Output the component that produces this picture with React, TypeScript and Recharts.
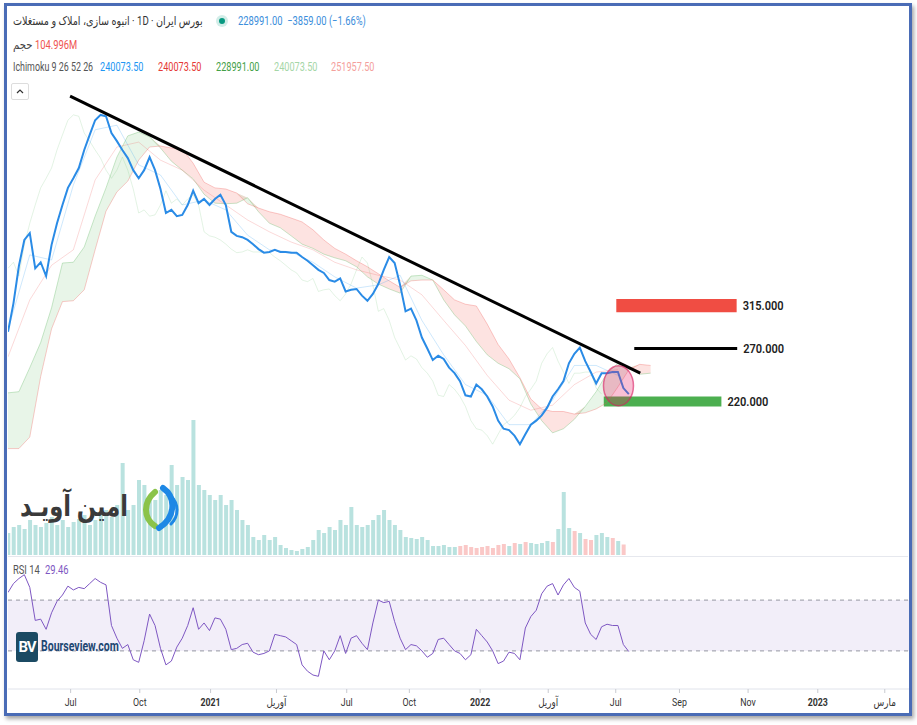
import React from "react";
import {
  Area,
  Bar,
  Cell,
  ComposedChart,
  Line,
  LineChart,
  ReferenceArea,
  ReferenceDot,
  ReferenceLine,
  XAxis,
  YAxis,
} from "recharts";

// weekly closes, thousand rials, week 0 ~ mid Apr 2020
const price = [
  287, 318, 364, 400, 410, 361, 369, 351, 393, 425,
  454, 483, 500, 519, 554, 585, 617, 629, 626, 589,
  572, 554, 538, 515, 500, 515, 540, 515, 481, 441,
  446, 436, 438, 454, 478, 457, 464, 454, 464, 471,
  454, 412, 406, 404, 400, 394, 387, 382, 383, 386,
  383, 383, 382, 382, 376, 371, 365, 359, 355, 346,
  344, 348, 332, 334, 335, 327, 321, 329, 341, 359,
  376, 368, 340, 309, 312, 299, 281, 270, 259, 263,
  260, 252, 247, 240, 228, 227, 237, 233, 227, 219,
  208, 202, 201, 197, 191, 198, 205, 208, 212, 218,
  227, 233, 240, 256, 265, 271, 258, 248, 238, 247,
  247, 248, 248, 234, 229,
];

const rsi = [
  76, 83, 87, 90, 80, 54, 55, 47, 60, 69,
  74, 81, 78, 80, 79, 83, 87, 84, 82, 50,
  40, 32, 35, 23, 21, 38, 59, 50, 32, 19,
  22, 33, 40, 50, 64, 47, 52, 46, 56, 55,
  47, 31, 32, 35, 36, 29, 27, 28, 30, 43,
  42, 41, 38, 35, 19, 14, 11, 10, 30, 23,
  30, 42, 28, 40, 42, 36, 31, 52, 70, 68,
  69, 53, 40, 31, 35, 34, 30, 25, 28, 39,
  40, 35, 30, 28, 23, 27, 47, 42, 37, 30,
  20, 22, 29, 28, 23, 48, 57, 62, 75, 81,
  83, 74, 82, 87, 80, 77, 52, 43, 39, 49,
  51, 50, 50, 35, 29.46,
];

// weekly volume, millions
const volume = [
  220, 280, 300, 260, 350, 300, 280, 320, 380, 300,
  350, 280, 330, 360, 400, 300, 350, 400, 450, 380,
  500, 920, 450, 500, 750, 700, 600, 550, 650, 600,
  900, 700, 780, 750, 1350, 700, 650, 600, 550, 600,
  500, 550, 450, 350, 300, 180, 150, 200, 150, 180,
  100, 70, 50, 40, 60, 80, 150, 250, 220, 280,
  250, 350, 300, 480, 300, 280, 300, 350, 400, 450,
  350, 300, 250, 180, 170, 160, 180, 150, 90, 90,
  100, 80, 80, 90, 100, 80, 70, 80, 90, 70,
  100, 110, 90, 120, 110, 130, 120, 110, 120, 140,
  130, 260, 630, 270, 240, 220, 160, 150, 200, 220,
  180, 170, 140, 105,
];
const volDown = [83, 84, 85, 86, 87, 88, 89, 90, 91, 93, 95, 100, 104, 106, 107, 111, 113];

// ichimoku leading spans, every 2 weeks (shifted 26 bars ahead)
const spanA = [
  230, 231, 252, 276, 313, 368, 369, 390, 436, 483,
  540, 583, 591, 581, 558, 532, 515, 499, 472, 457,
  456, 457, 466, 443, 425, 418, 406, 394, 388, 380,
  375, 371, 363, 350, 341, 335, 330, 351, 352, 346,
  322, 305, 293, 277, 264, 256, 251, 242, 221, 208,
  199, 202, 209, 219, 231, 247, 256, 252, 246, 247,
];
const spanB = [
  188, 188, 196, 244, 290, 320, 321, 334, 386, 444,
  476, 495, 534, 560, 562, 558, 556, 528, 493, 483,
  481, 474, 456, 449, 443, 439, 433, 427, 415, 400,
  388, 380, 371, 363, 354, 345, 337, 345, 346, 346,
  334, 322, 317, 315, 295, 274, 260, 243, 225, 217,
  215, 215, 213, 214, 217, 222, 235, 250, 255, 254,
];
// conversion / base lines, every 4 weeks
const tenkan = [289, 379, 372, 488, 596, 606, 525, 506, 454, 462, 446, 407, 386, 383, 369, 350, 336, 340, 352, 299, 264, 237, 228, 205, 205, 224, 254, 254, 245];
const kijun = [262, 322, 365, 386, 497, 560, 570, 534, 515, 479, 454, 430, 412, 397, 386, 369, 359, 352, 346, 328, 299, 273, 245, 224, 216, 220, 237, 248, 250];
const lagShift = 5;

const tickWeeks = [11.5, 24.2, 37.2, 49.3, 62.2, 73.7, 86.7, 99.2, 111.6, 123.3, 135.9, 148.7, 161.0];
const tickLabels = ["Jul", "Oct", "2021", "آوریل", "Jul", "Oct", "2022", "آوریل", "Jul", "Sep", "Nov", "2023", "مارس"];

const FONT = "Roboto, 'DejaVu Sans', sans-serif";
const DOMAIN_W: [number, number] = [0, 166];

const rows = Array.from({ length: 120 }, (_, w) => {
  const even = w % 2 === 0;
  const a = even ? spanA[w / 2] : undefined;
  const b = even ? spanB[w / 2] : undefined;
  const top = a !== undefined && b !== undefined ? Math.max(a, b) : undefined;
  return {
    w,
    price: price[w],
    lag: price[w + lagShift],
    vol: volume[w],
    spanA: a,
    spanB: b,
    green: top !== undefined ? [b, top] : undefined,
    red: top !== undefined ? [a, top] : undefined,
    tenkan: w % 4 === 0 ? tenkan[w / 4] : undefined,
    kijun: w % 4 === 0 ? kijun[w / 4] : undefined,
  };
});
const rsiRows = rsi.map((v, w) => ({ w, rsi: v }));

function T({ x, y, size = 12, color = "#555", weight = 400, sx = 0.8, rtl = false, children }: any) {
  return (
    <span
      dir={rtl ? "rtl" : "ltr"}
      style={{
        position: "absolute",
        left: x,
        top: y,
        fontSize: size,
        lineHeight: `${size + 2}px`,
        color,
        fontWeight: weight,
        fontFamily: FONT,
        whiteSpace: "nowrap",
        transform: `scaleX(${sx})`,
        transformOrigin: "left center",
      }}
    >
      {children}
    </span>
  );
}

function LevelLabel({ viewBox, text }: any) {
  if (!viewBox) return null;
  const x = viewBox.x + viewBox.width + 6;
  const y = viewBox.y + viewBox.height / 2;
  return (
    <text
      x={x}
      y={y}
      dy={4.5}
      fontSize={13}
      fontWeight={600}
      fill="#222"
      fontFamily={FONT}
      transform={`translate(${x} 0) scale(0.85 1) translate(${-x} 0)`}
    >
      {text}
    </text>
  );
}

function TimeTick({ x, y, index }: any) {
  const label = tickLabels[index];
  const bold = /^\d{4}$/.test(label);
  return (
    <text
      x={x}
      y={y}
      dy={11}
      textAnchor="middle"
      fontSize={11}
      fontWeight={bold ? 700 : 400}
      fill="#333"
      fontFamily={FONT}
      transform={`translate(${x} 0) scale(0.8 1) translate(${-x} 0)`}
    >
      {label}
    </text>
  );
}

export default function App() {
  return (
    <div style={{ position: "absolute", left: 0, top: 0, width: 917, height: 725, background: "#fff", overflow: "hidden" }}>
      {/* header */}
      <T x={13} y={14} size={12} color="#333" rtl sx={0.8}>
        بورس ایران · 1D · انبوه سازی، املاک و مستغلات
      </T>
      <div style={{ position: "absolute", left: 216, top: 15, width: 12, height: 12, borderRadius: 6, background: "rgba(8,153,129,0.18)" }} />
      <div style={{ position: "absolute", left: 219, top: 18, width: 6, height: 6, borderRadius: 3, background: "#089981" }} />
      <T x={238} y={14} color="#3b8edb" sx={0.78}>228991.00&nbsp; −3859.00 (−1.66%)</T>
      <T x={13} y={38} color="#444" sx={0.85}>حجم</T>
      <T x={35} y={38} color="#ef5350" sx={0.78}>104.996M</T>
      <T x={13} y={60} color="#555" sx={0.74}>Ichimoku 9 26 52 26</T>
      <T x={100} y={60} color="#2196f3" sx={0.76}>240073.50</T>
      <T x={158} y={60} color="#e53935" sx={0.76}>240073.50</T>
      <T x={216} y={60} color="#43a047" sx={0.76}>228991.00</T>
      <T x={274} y={60} color="#a5d6a7" sx={0.76}>240073.50</T>
      <T x={331} y={60} color="#f4a09c" sx={0.76}>251957.50</T>
      <div style={{ position: "absolute", left: 11, top: 83, width: 16, height: 15, border: "1px solid #ddd", borderRadius: 2, background: "#fff" }}>
        <svg width={16} height={15}>
          <path d="M5 9 L8 6 L11 9" fill="none" stroke="#333" strokeWidth={1.2} />
        </svg>
      </div>

      {/* price pane */}
      <div style={{ position: "absolute", left: 8, top: 85 }}>
        <ComposedChart width={904} height={470} data={rows} margin={{ top: 0, right: 0, bottom: 0, left: 0 }}>
          <XAxis type="number" dataKey="w" domain={DOMAIN_W} hide allowDataOverflow />
          <YAxis yAxisId="p" scale="log" domain={[127.9, 700.9]} hide allowDataOverflow />
          <YAxis yAxisId="vol" domain={[0, 4700]} hide />
          <Bar yAxisId="vol" dataKey="vol" barSize={4} isAnimationActive={false}>
            {rows.map((r) => (
              <Cell key={r.w} fill={volDown.includes(r.w) ? "#ef5350" : "#26a69a"} fillOpacity={0.32} />
            ))}
          </Bar>
          <Area yAxisId="p" type="linear" dataKey="green" stroke="none" fill="#4caf50" fillOpacity={0.13} connectNulls isAnimationActive={false} />
          <Area yAxisId="p" type="linear" dataKey="red" stroke="none" fill="#f44336" fillOpacity={0.15} connectNulls isAnimationActive={false} />
          <Line yAxisId="p" type="linear" dataKey="spanA" stroke="#66bb6a" strokeOpacity={0.35} strokeWidth={1} dot={false} connectNulls isAnimationActive={false} />
          <Line yAxisId="p" type="linear" dataKey="spanB" stroke="#ef5350" strokeOpacity={0.3} strokeWidth={1} dot={false} connectNulls isAnimationActive={false} />
          <Line yAxisId="p" type="linear" dataKey="lag" stroke="#66bb6a" strokeOpacity={0.18} strokeWidth={1} dot={false} isAnimationActive={false} />
          <Line yAxisId="p" type="linear" dataKey="kijun" stroke="#ef5350" strokeOpacity={0.22} strokeWidth={1} dot={false} connectNulls isAnimationActive={false} />
          <Line yAxisId="p" type="linear" dataKey="tenkan" stroke="#2196f3" strokeOpacity={0.22} strokeWidth={1} dot={false} connectNulls isAnimationActive={false} />
          <Line yAxisId="p" type="linear" dataKey="price" stroke="#2a8be6" strokeWidth={2} dot={false} isAnimationActive={false} />
          <ReferenceLine
            yAxisId="p"
            segment={[{ x: 11.4, y: 673 }, { x: 116.1, y: 247 }]}
            stroke="#000"
            strokeWidth={3}
            ifOverflow="visible"
          />
          <ReferenceArea yAxisId="p" x1={111.7} x2={133.8} y1={308} y2={323} fill="#f04d43" fillOpacity={1} stroke="none" ifOverflow="visible" label={<LevelLabel text="315.000" />} />
          <ReferenceLine
            yAxisId="p"
            segment={[{ x: 115.0, y: 270 }, { x: 133.9, y: 270 }]}
            stroke="#000"
            strokeWidth={3}
            ifOverflow="visible"
            label={<LevelLabel text="270.000" />}
          />
          <ReferenceArea yAxisId="p" x1={109.4} x2={131.0} y1={219} y2={227} fill="#4caf50" fillOpacity={1} stroke="none" ifOverflow="visible" label={<LevelLabel text="220.000" />} />
          <ReferenceDot
            yAxisId="p"
            x={112.1}
            y={236}
            r={15}
            ifOverflow="visible"
            shape={(p: any) => (
              <ellipse cx={p.cx} cy={p.cy} rx={15} ry={20} fill="#e91e63" fillOpacity={0.28} stroke="#d81b60" strokeOpacity={0.6} strokeWidth={1.5} />
            )}
          />
        </ComposedChart>
      </div>

      {/* logo watermark */}
      <T x={20} y={491} size={29} color="#3a3a3a" weight={700} rtl sx={0.78}>
        امین آویـد
      </T>
      <svg style={{ position: "absolute", left: 139, top: 484 }} width={44} height={48}>
        <path d="M16 8 C4 18 4 34 16 42" fill="none" stroke="#8bc34a" strokeWidth={6} strokeLinecap="round" />
        <path d="M24 4 C38 14 36 34 20 44" fill="none" stroke="#1e88e5" strokeWidth={6} strokeLinecap="round" />
        <path d="M32 12 C40 20 40 32 32 40" fill="none" stroke="#1e88e5" strokeWidth={3} strokeLinecap="round" />
      </svg>

      <div style={{ position: "absolute", left: 8, top: 556, width: 900, height: 1, background: "#e6e8ee" }} />

      {/* RSI pane */}
      <T x={13} y={563} color="#555" sx={0.78}>RSI 14</T>
      <T x={45} y={563} color="#7e57c2" sx={0.78}>29.46</T>
      <div style={{ position: "absolute", left: 8, top: 562 }}>
        <LineChart width={904} height={159} data={rsiRows} margin={{ top: 0, right: 0, bottom: 0, left: 0 }}>
          <XAxis
            type="number"
            dataKey="w"
            domain={DOMAIN_W}
            ticks={tickWeeks}
            interval={0}
            height={32}
            tickSize={4}
            tickMargin={2}
            axisLine={{ stroke: "#e0e3eb" }}
            tickLine={{ stroke: "#c8cad0" }}
            tick={<TimeTick />}
            allowDataOverflow
          />
          <YAxis domain={[0, 100]} hide />
          <ReferenceArea y1={30} y2={70} fill="#7e57c2" fillOpacity={0.1} stroke="none" />
          <ReferenceLine y={70} stroke="#9598a1" strokeDasharray="4 4" />
          <ReferenceLine y={30} stroke="#9598a1" strokeDasharray="4 4" />
          <Line type="linear" dataKey="rsi" stroke="#7e57c2" strokeWidth={1} dot={false} isAnimationActive={false} />
        </LineChart>
      </div>

      {/* bourseview watermark */}
      <div style={{ position: "absolute", left: 16, top: 632, width: 22, height: 30, borderRadius: 3, background: "#1b4a63", color: "#fff", fontFamily: FONT, fontWeight: 700, fontSize: 15, lineHeight: "30px", textAlign: "center", letterSpacing: -1 }}>
        BV
      </div>
      <T x={41} y={638} size={14} color="#1d4672" weight={700} sx={0.75}>Bourseview.com</T>

      {/* frame */}
      <div
        style={{
          position: "absolute",
          left: 4,
          top: 3,
          width: 902,
          height: 707,
          border: "3px solid #4a6cb6",
          boxShadow: "2px 3px 4px rgba(0,0,0,0.35)",
          pointerEvents: "none",
        }}
      />
    </div>
  );
}
